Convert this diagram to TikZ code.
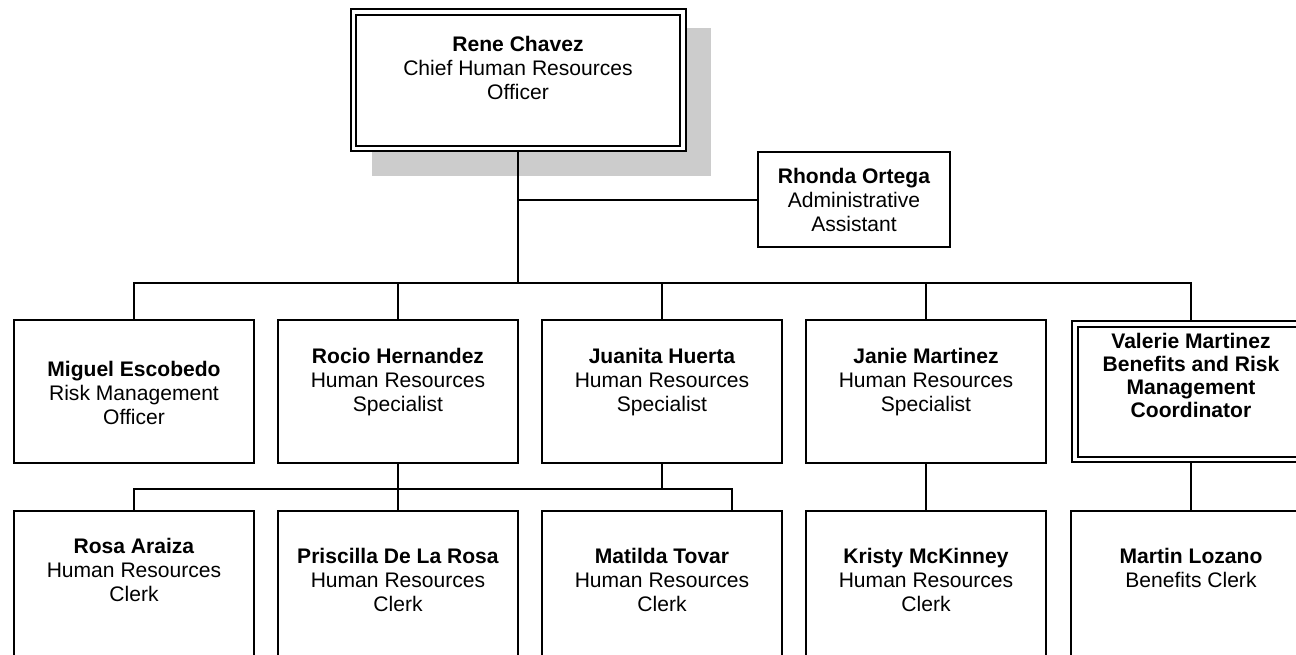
\documentclass[tikz,border=0pt]{standalone}
\usepackage{fontspec}
\setmainfont{Liberation Sans}
\pgfdeclarelayer{shadowlayer}
\pgfdeclarelayer{linklayer}
\pgfsetlayers{shadowlayer,linklayer,main}
\tikzset{
  box/.style={draw, line width=1.5pt, fill=white, inner sep=0pt, outer sep=0pt, minimum width=180pt},
  dbox/.style={draw, line width=1.5pt, double, double distance=2.625pt, fill=white, inner sep=0pt, outer sep=0pt},
  row2/.style={box, minimum height=107.25pt},
  row3/.style={box, minimum height=156.75pt},
  txt/.style={align=center, inner sep=0pt, font=\fontsize{15.8pt}{18pt}\selectfont},
  link/.style={line width=1.5pt},
}
\begin{document}
\begin{tikzpicture}[x=0.75pt, y=-0.75pt]
\useasboundingbox (0,0) rectangle (1296,654);
\clip (0,0) rectangle (1296,654);
\begin{pgfonlayer}{shadowlayer}
  \fill[black!20] (372,28) rectangle (711,176);
\end{pgfonlayer}
% boxes
\node[dbox, minimum width=247.125pt, minimum height=102.375pt] (rene) at (518,80) {};
\node[box, minimum width=144pt, minimum height=71.25pt] (rhonda) at (854,199.5) {};
\node[row2] (miguel) at (134,391.5) {};
\node[row2] (rocio) at (398,391.5) {};
\node[row2] (juanita) at (662,391.5) {};
\node[row2] (janie) at (926,391.5) {};
\node[dbox, minimum width=174.375pt, minimum height=101.625pt] (valerie) at (1191,391.5) {};
\node[row3] (rosa) at (134,615.5) {};
\node[row3] (priscilla) at (398,615.5) {};
\node[row3] (matilda) at (662,615.5) {};
\node[row3] (kristy) at (926,615.5) {};
\node[row3] (martin) at (1191,615.5) {};
% texts
\node[txt] (reneT) at (518,68) {\textbf{Rene Chavez}\\Chief Human Resources\\Officer};
\node[txt] (rhondaT) at (854,200) {\textbf{Rhonda Ortega}\\Administrative\\Assistant};
\node[txt] (miguelT) at (134,393) {\textbf{Miguel Escobedo}\\Risk Management\\Officer};
\node[txt] (rocioT) at (398,382) {\textbf{Rocio Hernandez}\\Human Resources\\Specialist};
\node[txt] (juanitaT) at (662,382) {\textbf{Juanita Huerta}\\Human Resources\\Specialist};
\node[txt] (janieT) at (926,382) {\textbf{Janie Martinez}\\Human Resources\\Specialist};
\node[txt, font=\bfseries\fontsize{15.8pt}{17.25pt}\selectfont] (valerieT) at (1191,375.5) {Valerie Martinez\\Benefits and Risk\\Management\\Coordinator};
\node[txt] (rosaT) at (134,570) {\textbf{Rosa Araiza}\\Human Resources\\Clerk};
\node[txt] (priscillaT) at (398,580) {\textbf{Priscilla De La Rosa}\\Human Resources\\Clerk};
\node[txt] (matildaT) at (662,580) {\textbf{Matilda Tovar}\\Human Resources\\Clerk};
\node[txt] (kristyT) at (926,580) {\textbf{Kristy McKinney}\\Human Resources\\Clerk};
\node[txt] (martinT) at (1191,568) {\textbf{Martin Lozano}\\Benefits Clerk};
% connectors
\coordinate (bus1) at (518,283);
\coordinate (bus2) at (662,489);
\coordinate (mtop) at (732,511);
\begin{pgfonlayer}{linklayer}
  \draw[link] (rene.south) -- (bus1);
  \draw[link] (rene.south |- rhonda.west) -- (rhonda.west);
  \draw[link] (miguel.north) |- (bus1) -| (valerie.north);
  \draw[link] (rocio.north) -- (rocio.north |- bus1);
  \draw[link] (juanita.north) -- (juanita.north |- bus1);
  \draw[link] (janie.north) -- (janie.north |- bus1);
  \draw[link] (rocio.south) -- (priscilla.north);
  \draw[link] (juanita.south) -- (juanita.south |- bus2);
  \draw[link] (rosa.north) |- (bus2) -| (mtop);
  \draw[link] (janie.south) -- (kristy.north);
  \draw[link] (valerie.south) -- (martin.north);
\end{pgfonlayer}
\end{tikzpicture}
\end{document}
